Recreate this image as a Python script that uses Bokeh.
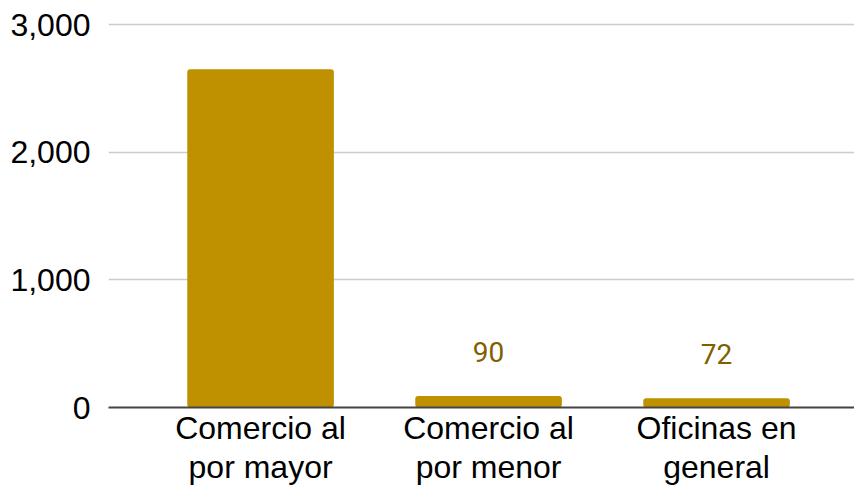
from bokeh.plotting import figure
from bokeh.models import Range1d, ColumnDataSource, FixedTicker
from bokeh.embed import file_html
from bokeh.resources import INLINE
from bokeh.core.properties import value

categories = ["Comercio al\npor mayor", "Comercio al\npor menor", "Oficinas en\ngeneral"]
values = [2650, 90, 72]
labels = ["", "90", "72"]
y_ticks = [0, 1000, 2000, 3000]
y_tick_labels = ["0", "1,000", "2,000", "3,000"]

xs = list(range(len(categories)))
src = ColumnDataSource(dict(x=xs, top=values, label=labels))

p = figure(width=854, height=489, output_backend="svg", toolbar_location=None,
           x_range=Range1d(-0.667, 2.605), y_range=Range1d(0, 3016),
           min_border_left=108, min_border_right=0, min_border_top=22, min_border_bottom=82)
p.outline_line_color = None
p.background_fill_color = "white"
p.border_fill_color = "white"

p.vbar(x="x", top="top", width=0.643, bottom=0, source=src,
       fill_color="#BF9000", line_color=None, border_radius=3)
p.text(x="x", y="top", text="label", source=src, text_align="center",
       text_baseline="bottom", y_offset=-34, text_color="#7F6000",
       text_font=value("Roboto"), text_font_size="28px")

p.xgrid.grid_line_color = None
p.ygrid.grid_line_color = "#cccccc"
p.ygrid.grid_line_width = 1.5
p.ygrid.ticker = FixedTicker(ticks=y_ticks)

p.yaxis.ticker = FixedTicker(ticks=y_ticks)
p.yaxis.major_label_overrides = {t: l for t, l in zip(y_ticks, y_tick_labels)}
p.yaxis.axis_line_color = None
p.yaxis.major_tick_line_color = None
p.yaxis.minor_tick_line_color = None
p.yaxis.major_label_standoff = 12
p.yaxis.major_label_text_font = "Liberation Sans"
p.yaxis.major_label_text_font_size = "32px"
p.yaxis.major_label_text_color = "#000000"

p.xaxis.ticker = FixedTicker(ticks=xs)
p.xaxis.major_label_overrides = {i: c for i, c in zip(xs, categories)}
p.xaxis.axis_line_color = "#444444"
p.xaxis.axis_line_width = 2
p.xaxis.major_tick_line_color = None
p.xaxis.minor_tick_line_color = None
p.xaxis.major_label_standoff = -4
p.xaxis.major_label_text_font = "Liberation Sans"
p.xaxis.major_label_text_font_size = "32px"
p.xaxis.major_label_text_line_height = 1.1
p.xaxis.major_label_text_color = "#000000"

open("out.html", "w").write(file_html(p, INLINE))
